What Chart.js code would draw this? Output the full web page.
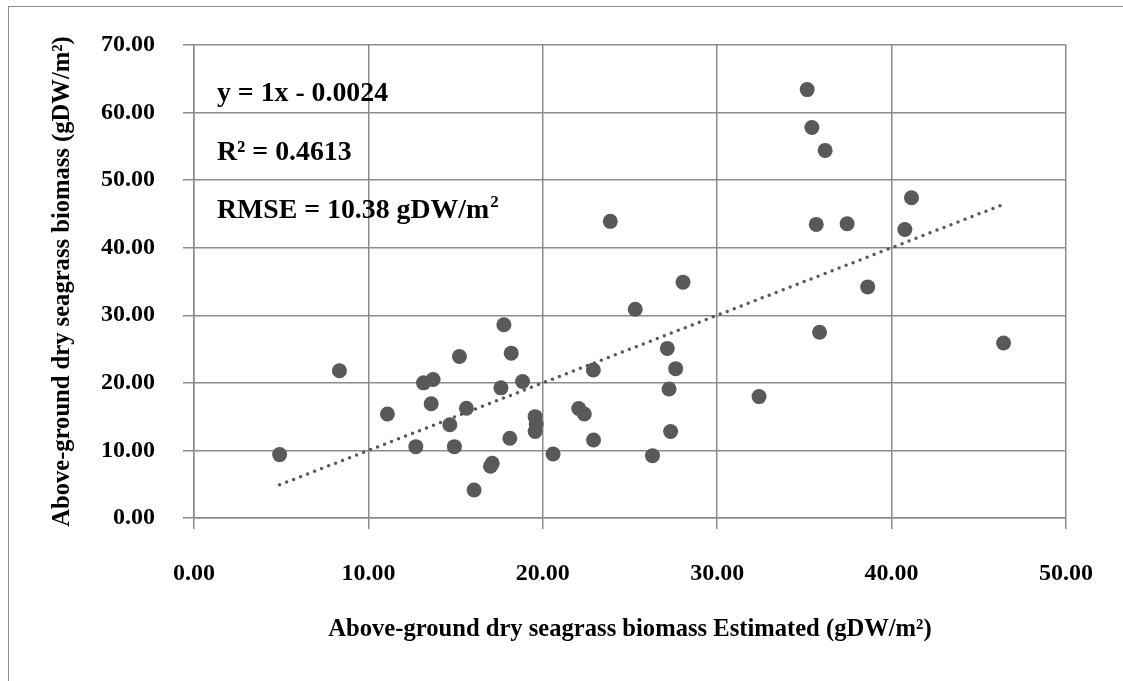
<!DOCTYPE html>
<html>
<head>
<meta charset="utf-8">
<script src="https://cdn.jsdelivr.net/npm/chart.js@4.4.1/dist/chart.umd.min.js"></script>
<style>
  html, body { margin: 0; padding: 0; background: #fff; overflow: hidden; }
  #wrap { position: relative; width: 1123px; height: 681px; }
  #frame { position: absolute; left: 8px; top: 6px; width: 1200px; height: 800px; border: 1.5px solid #8c8c8c; }
  canvas { position: absolute; left: 0; top: 0; }
</style>
</head>
<body>
<div id="wrap">
  <div id="frame"></div>
  <canvas id="chart" width="1123" height="681"></canvas>
</div>
<script>
// measured (estimated) vs observed above-ground dry seagrass biomass, gDW/m2
const estimated = [
  23.87, 35.16, 35.43, 36.19, 41.14, 35.68, 37.45, 40.76, 28.04, 38.63,
  25.30, 17.77, 18.19, 15.22, 8.34, 22.90, 13.16, 13.71, 18.84, 17.60,
  13.60, 15.62, 11.09, 22.06, 22.38, 14.67, 19.56, 19.62, 19.56, 18.11,
  22.91, 12.72, 14.93, 4.91, 20.59, 17.10, 17.00, 16.06, 35.87, 46.42,
  27.14, 27.62, 27.24, 32.40, 27.33, 26.29
];
const observed = [
  43.90, 63.40, 57.80, 54.40, 47.40, 43.45, 43.55, 42.70, 34.90, 34.20,
  30.90, 28.60, 24.40, 23.90, 21.80, 21.90, 20.00, 20.50, 20.20, 19.26,
  16.90, 16.24, 15.40, 16.20, 15.40, 13.80, 15.00, 13.90, 12.80, 11.80,
  11.55, 10.56, 10.56, 9.38, 9.48, 8.09, 7.65, 4.15, 27.50, 25.90,
  25.10, 22.10, 19.10, 17.97, 12.80, 9.23
];

// linear trendline end points, as drawn
const trendX = [4.91, 46.42];
const trendY = [4.91, 46.42];

const xTicks = [0, 10, 20, 30, 40, 50];
const yTicks = [0, 10, 20, 30, 40, 50, 60, 70];

const annotationLines = ['y = 1x - 0.0024', 'R\u00b2 = 0.4613', 'RMSE = 10.38 gDW/m'];

const serif = "'Liberation Serif', 'Times New Roman', serif";
const gridColor = '#8c8c8c';
const markColor = '#595959';

// draws the equation / R2 / RMSE text in the top-left of the plot
const annotationPlugin = {
  id: 'annotations',
  afterDatasetsDraw(chart) {
    const ctx = chart.ctx;
    const area = chart.chartArea;
    const x0 = area.left + 23;
    const baselines = [56, 115, 173];
    ctx.save();
    ctx.fillStyle = '#000';
    ctx.textBaseline = 'alphabetic';
    ctx.textAlign = 'left';
    ctx.font = 'bold 27.8px ' + serif;
    annotationLines.forEach(function (txt, i) {
      ctx.fillText(txt, x0, area.top + baselines[i]);
    });
    // superscript 2 after the RMSE unit
    const w = ctx.measureText(annotationLines[2]).width;
    ctx.font = 'bold 17px ' + serif;
    ctx.fillText('2', x0 + w + 1, area.top + baselines[2] - 11);
    ctx.restore();
  }
};

const points = estimated.map((x, i) => ({ x: x, y: observed[i] }));
const trend = trendX.map((x, i) => ({ x: x, y: trendY[i] }));

new Chart(document.getElementById('chart'), {
  type: 'scatter',
  data: {
    datasets: [
      {
        data: points,
        backgroundColor: markColor,
        borderColor: markColor,
        pointRadius: 7.5,
        pointHoverRadius: 7.5,
        borderWidth: 0
      },
      {
        type: 'line',
        data: trend,
        borderColor: markColor,
        borderWidth: 3.5,
        borderDash: [0, 7.5],
        borderCapStyle: 'round',
        pointRadius: 0,
        fill: false
      }
    ]
  },
  options: {
    responsive: false,
    animation: false,
    events: [],
    layout: { padding: { top: 45, right: 54, bottom: 0, left: 0 } },
    plugins: {
      legend: { display: false },
      tooltip: { enabled: false }
    },
    scales: {
      x: {
        type: 'linear',
        min: 0,
        max: 50,
        afterBuildTicks: s => { s.ticks = xTicks.map(v => ({ value: v })); },
        afterFit: s => { s.height = 681 - 518; },
        grid: { color: gridColor, lineWidth: 1.5, tickLength: 11 },
        border: { color: gridColor, width: 1.5 },
        ticks: {
          padding: 30,
          maxRotation: 0,
          color: '#000',
          font: { family: serif, size: 24, weight: 'bold' },
          callback: v => v.toFixed(2)
        },
        title: {
          display: true,
          text: 'Above-ground dry seagrass biomass Estimated (gDW/m\u00b2)',
          color: '#000',
          font: { family: serif, size: 24.6, weight: 'bold' },
          padding: { top: 0, bottom: 37 }
        }
      },
      y: {
        type: 'linear',
        min: 0,
        max: 70,
        afterBuildTicks: s => { s.ticks = yTicks.map(v => ({ value: v })); },
        afterFit: s => { s.width = 194; },
        grid: { color: gridColor, lineWidth: 1.5, tickLength: 11 },
        border: { color: gridColor, width: 1.5 },
        ticks: {
          padding: 28,
          color: '#000',
          font: { family: serif, size: 24, weight: 'bold' },
          callback: v => v.toFixed(2)
        },
        title: {
          display: true,
          text: 'Above-ground dry seagrass biomass (gDW/m\u00b2)',
          color: '#000',
          font: { family: serif, size: 24.6, weight: 'bold' },
          padding: { top: 48, bottom: 0 }
        }
      }
    }
  },
  plugins: [annotationPlugin]
});
</script>
</body>
</html>
